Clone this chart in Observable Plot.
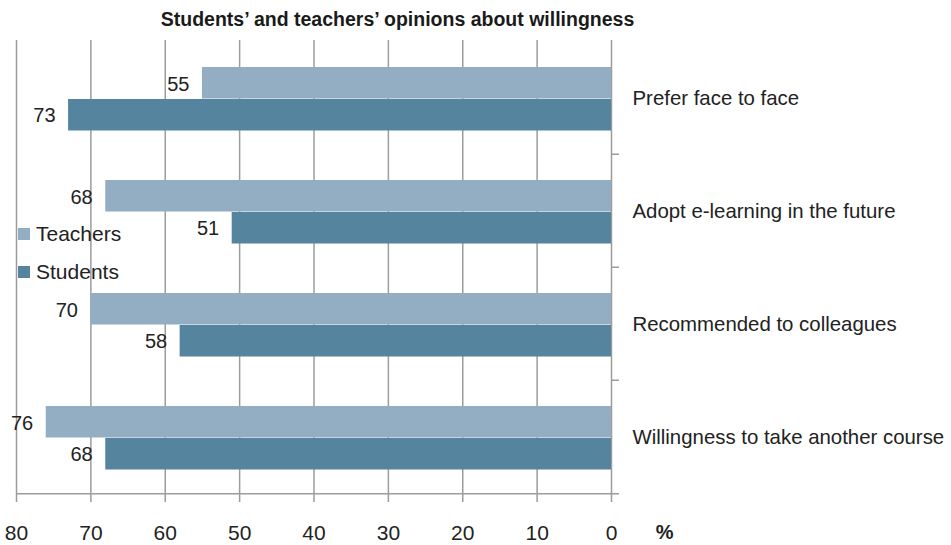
<!DOCTYPE html>
<html>
<head>
<meta charset="utf-8">
<script src="https://cdn.jsdelivr.net/npm/d3@7"></script>
<script src="https://cdn.jsdelivr.net/npm/@observablehq/plot@0.6"></script>
<style>
  html, body { margin: 0; padding: 0; background: #fff; }
  #wrap { position: relative; width: 951px; height: 545px; font-family: "Liberation Sans", Arial, sans-serif; color: #222; }
  #title { position: absolute; left: 0; top: 0; width: 795px; height: 40px; line-height: 38px; text-align: center; font-weight: bold; font-size: 19.5px; color: #1a1a1a; }
  #chart { position: absolute; left: 0; top: 40px; }
  #legend { position: absolute; left: 18px; top: 215px; font-size: 21px; }
  .li { display: flex; align-items: center; height: 38px; }
  .sw { width: 12px; height: 12px; margin-right: 6px; }
</style>
</head>
<body>
<div id="wrap">
  <div id="title"></div>
  <div id="chart"></div>
  <div id="legend"></div>
</div>
<script>
const titleText = "Students\u2019 and teachers\u2019 opinions about willingness";
const categories = ["Prefer face to face", "Adopt e-learning in the future", "Recommended to colleagues", "Willingness to take another course"];
const series = ["Teachers", "Students"];
const teachers = [55, 68, 70, 76];
const students = [73, 51, 58, 68];
const xTicks = [0, 10, 20, 30, 40, 50, 60, 70, 80];
const unitLabel = "%";
const colors = {Teachers: "#93aec3", Students: "#55849e"};

const tData = categories.map((c, i) => ({category: c, series: "Teachers", value: teachers[i]}));
const sData = categories.map((c, i) => ({category: c, series: "Students", value: students[i]}));

document.getElementById("title").textContent = titleText;

const H = 505;
const marginTop = 0, marginBottom = 51;
const bw = (H - marginTop - marginBottom) / categories.length;
const grid = "#9c9c9c";

const chart = Plot.plot({
  width: 951,
  height: H,
  marginLeft: 16,
  marginRight: 340,
  marginTop,
  marginBottom,
  style: {fontFamily: "'Liberation Sans', Arial, sans-serif", background: "#fff", color: "#222"},
  x: {domain: [0, 80], reverse: true, label: null},
  y: {domain: categories, padding: 0, label: null},
  marks: [
    Plot.ruleX(xTicks, {stroke: grid, strokeWidth: 1.5}),
    Plot.barX(tData, {x: "value", y: "category", fill: colors.Teachers, insetTop: 26, insetBottom: bw - 58}),
    Plot.barX(sData, {x: "value", y: "category", fill: colors.Students, insetTop: 58, insetBottom: bw - 90}),
    Plot.text(tData, {x: "value", y: "category", text: d => String(d.value), textAnchor: "end", dx: -13, dy: -13, fontSize: 20, fill: "#222"}),
    Plot.text(sData, {x: "value", y: "category", text: d => String(d.value), textAnchor: "end", dx: -13, dy: 18, fontSize: 20, fill: "#222"}),
    Plot.ruleY(categories.slice(1), {y: d => d, dy: -bw / 2, x1: 0, x2: 0, insetRight: -8, stroke: grid, strokeWidth: 1.5}),
    Plot.ruleY(categories.slice(-1), {y: d => d, dy: bw / 2, insetRight: -8, stroke: grid, strokeWidth: 1.5}),
    Plot.axisX({ticks: xTicks, tickSize: 8, tickPadding: 23, fontSize: 21, stroke: grid, strokeWidth: 1.5, fill: "#222", tickFormat: d => String(d), label: null}),
    Plot.axisY({anchor: "right", tickSize: 0, tickPadding: 21, fontSize: 20.4, fill: "#222", label: null}),
    Plot.text([unitLabel], {frameAnchor: "bottom-right", text: d => d, dx: 62, dy: 44, fontSize: 20, fontWeight: "bold", fill: "#222"})
  ]
});
document.getElementById("chart").appendChild(chart);

const legend = d3.select("#legend");
series.forEach(s => {
  const row = legend.append("div").attr("class", "li");
  row.append("div").attr("class", "sw").style("background", colors[s]);
  row.append("span").text(s);
});
</script>
</body>
</html>
